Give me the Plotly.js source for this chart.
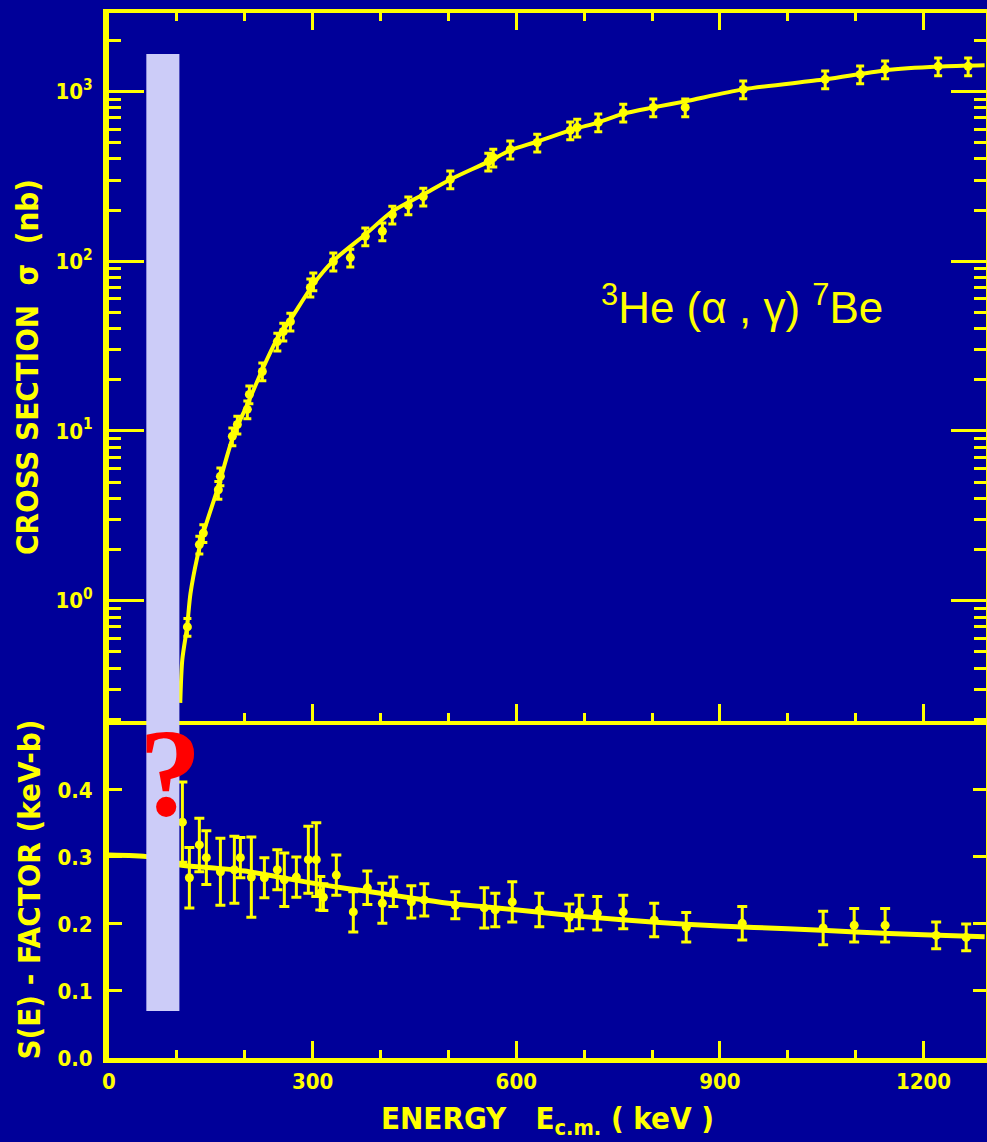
<!DOCTYPE html>
<html>
<head>
<meta charset="utf-8">
<script src="https://cdn.plot.ly/plotly-3.0.1.min.js"></script>
<style>html,body{margin:0;padding:0;background:#000099;}</style>
</head>
<body>
<div id="chart" style="width:987px;height:1142px;"></div>
<script>
// ---- Cross section (top panel) ----
const fitEnergyTop = [105,108,115,120,130,139,161,183,206,226,248,267,301,330,378,417,463,503,559,591,631,684,721,758,802,849,934,1055,1143,1222,1290];
const fitSigma     = [0.25,0.45,0.70,1.1,1.8,2.5,4.7,9.3,15,23,35,45,73,100,144,196,247,303,386,450,507,597,657,740,805,874,1028,1178,1330,1400,1425];

const dataEnergyTop = [115.5,133.1,139.0,161.1,164.1,181.7,189.1,203.8,206.8,225.9,248.0,256.8,267.2,296.6,301.0,330.5,355.5,377.6,402.7,417.4,441.0,463.0,502.8,558.8,566.1,591.2,630.9,679.5,689.8,720.8,757.6,801.8,848.9,934.3,1055.1,1106.6,1143.4,1221.5,1265.7];
const dataSigma     = [0.70,2.14,2.5,4.5,5.4,9.3,10.9,13.4,16.4,22.4,33.6,38.5,44,70,76,99.6,105,140,150,188,213,240,303,386,408,455,500,589,613,657,750,805,805,1028,1178,1260,1350,1405,1405];

// ---- S-factor (bottom panel) ----
const fitEnergyS = [0,60,105,150,200,250,300,350,400,450,500,560,620,700,800,900,1000,1100,1200,1290];
const fitS       = [0.303,0.300,0.288,0.284,0.279,0.270,0.261,0.253,0.246,0.238,0.231,0.225,0.219,0.211,0.203,0.197,0.193,0.188,0.184,0.181];

const dataEnergyS = [108.1,118.4,133.1,143.4,164.1,184.7,193.5,209.7,228.9,248.0,258.3,276.0,293.7,305.4,311.3,315.8,334.9,359.9,380.6,402.7,418.9,445.4,464.5,510.2,552.9,569.1,594.1,633.9,678.1,692.8,719.3,757.6,803.2,850.4,932.9,1052.1,1097.8,1143.4,1218.6,1262.8];
const dataS       = [0.352,0.269,0.318,0.299,0.278,0.281,0.299,0.270,0.269,0.281,0.266,0.270,0.296,0.296,0.246,0.240,0.273,0.218,0.254,0.231,0.248,0.233,0.236,0.228,0.224,0.221,0.233,0.221,0.210,0.218,0.216,0.218,0.206,0.195,0.201,0.194,0.198,0.198,0.183,0.180];
const dataSErr    = [0.060,0.045,0.040,0.040,0.050,0.050,0.030,0.060,0.030,0.030,0.040,0.030,0.050,0.055,0.025,0.020,0.030,0.030,0.025,0.030,0.022,0.024,0.024,0.020,0.030,0.025,0.030,0.025,0.020,0.025,0.025,0.025,0.025,0.022,0.025,0.025,0.025,0.025,0.020,0.020];

// ---- tick labels ----
const sigmaTickVals = [1,10,100,1000];
const sigmaTickText = ['10<sup>0</sup>','10<sup>1</sup>','10<sup>2</sup>','10<sup>3</sup>'];
const sTickVals = [0,0.1,0.2,0.3,0.4];
const sTickText = ['0.0','0.1','0.2','0.3','0.4'];
const energyTickVals = [0,300,600,900,1200];
const energyTickText = ['0','300','600','900','1200'];

const minorLog = [];
for (let d = -1; d <= 3; d++) for (let m = 2; m <= 9; m++) minorLog.push(m * Math.pow(10, d));

const Y = '#FFFF00';
const BG = '#000099';
const NARROW = 'DejaVu Sans Condensed, Liberation Sans Narrow, Arial Narrow, sans-serif';

const traces = [
  {x: fitEnergyTop, y: fitSigma, xaxis:'x', yaxis:'y', mode:'lines',
   line:{color:Y, width:4, shape:'spline', smoothing:0.8}, hoverinfo:'skip'},
  {x: dataEnergyTop, y: dataSigma, xaxis:'x', yaxis:'y', mode:'markers',
   marker:{color:Y, size:9},
   error_y:{type:'percent', value:12, color:Y, thickness:3, width:4}},
  {x: fitEnergyS, y: fitS, xaxis:'x2', yaxis:'y2', mode:'lines',
   line:{color:Y, width:5, shape:'spline', smoothing:0.8}, hoverinfo:'skip'},
  {x: dataEnergyS, y: dataS, xaxis:'x2', yaxis:'y2', mode:'markers',
   marker:{color:Y, size:9},
   error_y:{type:'data', array:dataSErr, color:Y, thickness:3, width:5}}
];

const tickFont = {family:NARROW, size:22, color:Y, weight:'bold'};
const titleFont = {family:NARROW, size:31, color:Y, weight:'bold'};
const DIV = 0.3225;

const layout = {
  width:987, height:1142,
  paper_bgcolor:BG, plot_bgcolor:BG,
  margin:{l:109, r:1, t:13, b:84, pad:0},
  showlegend:false,
  xaxis:{domain:[0,1], anchor:'y', range:[0,1292], showgrid:false, zeroline:false,
    showline:true, linecolor:Y, linewidth:4, mirror:'ticks',
    tickmode:'array', tickvals:energyTickVals, ticks:'inside', ticklen:17, tickwidth:3, tickcolor:Y,
    minor:{dtick:100, tick0:0, ticks:'inside', ticklen:8, tickwidth:3, tickcolor:Y},
    showticklabels:false},
  yaxis:{domain:[DIV,1], anchor:'x', type:'log', range:[-0.709,3.462], showgrid:false, zeroline:false,
    showline:true, linecolor:Y, linewidth:6, mirror:'ticks',
    tickmode:'array', tickvals:sigmaTickVals, ticktext:sigmaTickText,
    ticks:'inside', ticklen:35, tickwidth:3, tickcolor:Y, tickfont:tickFont, ticklabelstandoff:6,
    minor:{tickmode:'array', tickvals:minorLog, ticks:'inside', ticklen:12, tickwidth:3, tickcolor:Y},
    title:{text:'CROSS SECTION  σ  (nb)', font:titleFont, standoff:10}, automargin:false},
  xaxis2:{domain:[0,1], anchor:'y2', matches:'x', range:[0,1292], showgrid:false, zeroline:false,
    showline:true, linecolor:Y, linewidth:5, mirror:false,
    tickmode:'array', tickvals:energyTickVals, ticktext:energyTickText,
    ticks:'inside', ticklen:17, tickwidth:3, tickcolor:Y, tickfont:tickFont, ticklabelstandoff:0,
    minor:{dtick:100, tick0:0, ticks:'inside', ticklen:8, tickwidth:3, tickcolor:Y},
    title:{text:'ENERGY   E<sub>c.m.</sub> ( keV )', font:{family:NARROW, size:31, color:Y, weight:'bold'}, standoff:15}, automargin:false},
  yaxis2:{domain:[0,DIV], anchor:'x2', range:[0,0.503], showgrid:false, zeroline:false,
    showline:true, linecolor:Y, linewidth:6, mirror:'ticks',
    tickmode:'array', tickvals:sTickVals, ticktext:sTickText,
    ticks:'inside', ticklen:13, tickwidth:3, tickcolor:Y, tickfont:tickFont, ticklabelstandoff:6,
    title:{text:'S(E) - FACTOR (keV-b)', font:titleFont, standoff:10}, automargin:false},
  shapes:[
    {type:'rect', xref:'x', yref:'paper', x0:55, x1:103.7, y0:0.045, y1:0.9608,
     fillcolor:'#CCCCF8', line:{width:0}, layer:'above'}
  ],
  annotations:[
    {xref:'x', yref:'paper', x:933, y:0.7206, xanchor:'center', yanchor:'middle', showarrow:false,
     text:'<sup>3</sup>He (α , γ) <sup>7</sup>Be',
     font:{family:'Liberation Sans, Arial, sans-serif', size:44, color:Y}},
    {xref:'x', yref:'paper', x:90, y:0.2727, xanchor:'center', yanchor:'middle', showarrow:false,
     text:'?', font:{family:'Liberation Serif, Times New Roman, serif', size:125, color:'#FF0000', weight:'bold'}}
  ]
};

Plotly.newPlot('chart', traces, layout, {staticPlot:true, displayModeBar:false});
</script>
</body>
</html>
